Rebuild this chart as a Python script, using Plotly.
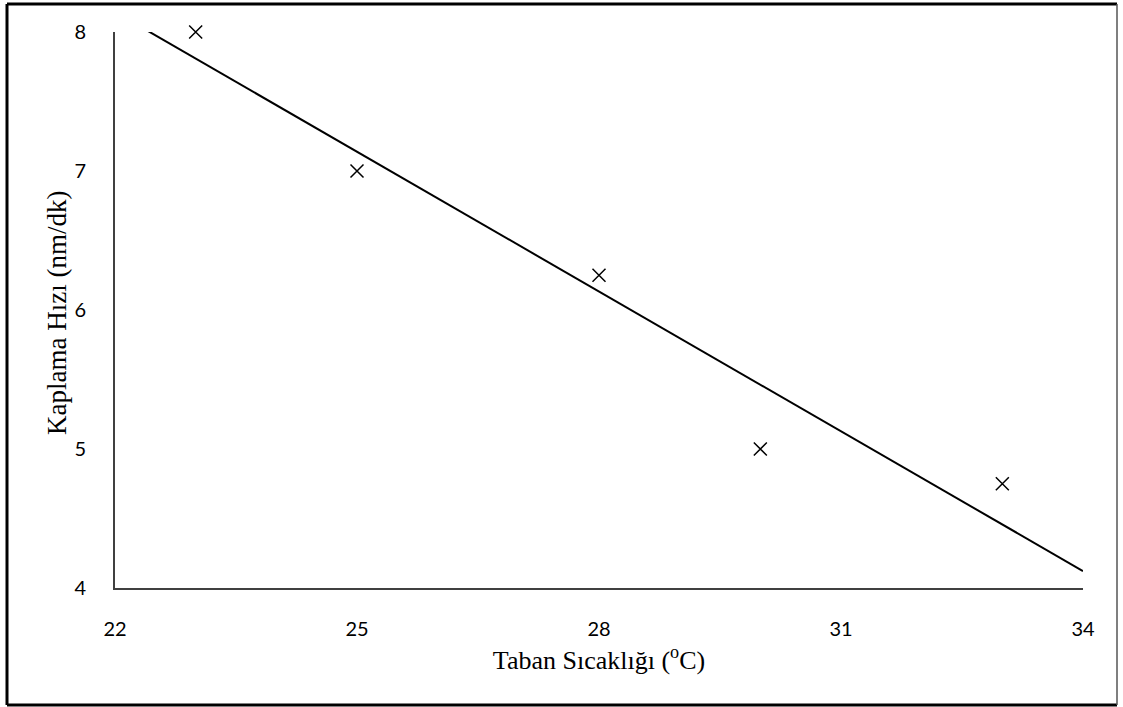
import numpy as np
import plotly.graph_objects as go

temps = [23, 25, 28, 30, 33]
rates = [8, 7, 6.25, 5, 4.75]
x_ticks = [22, 25, 28, 31, 34]
y_ticks = [4, 5, 6, 7, 8]
x_title = "Taban Sıcaklığı (<sup>o</sup>C)"
y_title = "Kaplama Hızı (nm/dk)"

slope, intercept = np.polyfit(temps, rates, 1)
line_x = [x_ticks[0], x_ticks[-1]]
line_y = [slope * v + intercept for v in line_x]

fig = go.Figure()
fig.add_trace(go.Scatter(x=line_x, y=line_y, mode="lines",
                         line=dict(color="black", width=2), showlegend=False,
                         hoverinfo="skip"))
fig.add_trace(go.Scatter(x=temps, y=rates, mode="markers",
                         marker=dict(symbol="x-thin", size=13,
                                     line=dict(color="black", width=1.5)),
                         showlegend=False, cliponaxis=False))

W, H = 1123, 707
L, R, T, B = 115, 40, 32, 119
pw, ph = W - L - R, H - T - B

def px(x):
    return (x - L) / pw

def py(y):
    return (H - B - y) / ph

def seg(x0, y0, x1, y1, color, width):
    return dict(type="line", xref="paper", yref="paper",
                x0=px(x0), y0=py(y0), x1=px(x1), y1=py(y1),
                line=dict(color=color, width=width), layer="above")

serif = "Liberation Serif, Times New Roman, serif"
sans = "Lato, Open Sans, sans-serif"

fig.update_layout(
    width=W, height=H,
    margin=dict(l=L, r=R, t=T, b=B),
    paper_bgcolor="white", plot_bgcolor="white",
    xaxis=dict(range=[22, 34], tickvals=x_ticks, showgrid=False, zeroline=False,
               showline=True, linecolor="#404040", linewidth=2, ticks="",
               ticklabelstandoff=22,
               tickfont=dict(family=sans, size=20, color="black"),
               title=dict(text=x_title, standoff=12,
                          font=dict(family=serif, size=26, color="black"))),
    yaxis=dict(range=[4, 8], tickvals=y_ticks, showgrid=False, zeroline=False,
               showline=True, linecolor="#404040", linewidth=2, ticks="",
               ticklabelstandoff=23,
               tickfont=dict(family=sans, size=20, color="black")),
    annotations=[dict(text=y_title, xref="paper", yref="paper",
                      x=px(57), y=py(313), xanchor="center", yanchor="middle",
                      textangle=-90, showarrow=False,
                      font=dict(family=serif, size=27, color="black"))],
    shapes=[
        seg(7, 4, 1117, 4, "black", 3),
        seg(7, 4, 7, 705, "black", 3),
        seg(7, 705, 1117, 705, "black", 3),
        seg(1117, 4, 1117, 705, "#555555", 1.5),
    ],
)

fig.write_html("out.html")
